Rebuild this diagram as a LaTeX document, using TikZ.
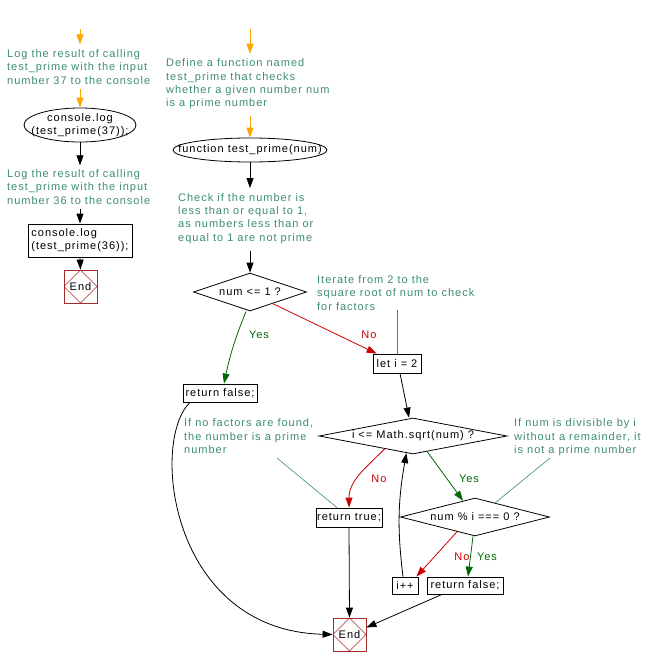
\documentclass[tikz,border=0pt]{standalone}
\usepackage{fontspec}
\setmainfont{Liberation Sans}[LetterSpace=9]
\usepackage{xcolor}
\usetikzlibrary{shapes.geometric,arrows.meta,calc}
\definecolor{notecol}{RGB}{60,140,110}
\definecolor{arrorange}{RGB}{255,165,0}
\definecolor{yesgreen}{RGB}{0,102,0}
\definecolor{nored}{RGB}{204,0,0}
\definecolor{endcol}{RGB}{165,42,42}

\begin{document}
\begin{tikzpicture}[x=1pt,y=-1pt,
		every node/.style={font=\fontsize{11}{13.3}\selectfont},
		note/.style={text=notecol,align=left,inner sep=0pt,anchor=north west},
		box/.style={draw,rectangle,inner sep=0pt,line width=0.8pt},
		cond/.style={draw,diamond,inner sep=0pt,line width=0.8pt},
		term/.style={draw,ellipse,align=center,inner xsep=-30pt,inner ysep=-10pt,line width=0.8pt},
		endbox/.style={draw=endcol,rectangle,minimum size=33pt,inner sep=0pt,line width=0.8pt,
			path picture={\draw[endcol,line width=0.6pt] (path picture bounding box.north)--(path picture bounding box.east)--(path picture bounding box.south)--(path picture bounding box.west)--cycle;}},
		flow/.style={line width=0.8pt,-{Triangle[length=10pt,width=7pt]}},
		orflow/.style={flow,color=arrorange},
		yesflow/.style={flow,color=yesgreen},
		noflow/.style={flow,color=nored},
		noteline/.style={draw=notecol,line width=0.6pt},
		yes/.style={text=yesgreen},
		no/.style={text=nored}]
				\useasboundingbox (0,0) rectangle (650,665);
				\coordinate (s1) at (80,29);%left start
				\coordinate (s2) at (250,29);%main start
				\coordinate (c1) at (277,458);%note nofactors
				\coordinate (c2) at (550,458);%note divisible
				
				% left column
				\node[note] (n37) at (7,49.3) {Log the result of calling\\test\_prime with the input\\number 37 to the console};
				\node[term,minimum width=112pt,minimum height=34pt] (ell37) at (80,125) {console.log\\(test\_prime(37));};
				\node[note] (n36) at (7,169.3) {Log the result of calling\\test\_prime with the input\\number 36 to the console};
				\node[box,align=left,minimum width=104pt,minimum height=33pt] (box36) at (80,240.5) {console.log\\(test\_prime(36));};
				\node[endbox] (end1) at (80.5,286.5) {End};
				
				% main column
				\node[note] (ndef) at (166,58.7) {Define a function named\\test\_prime that checks\\whether a given number num\\is a prime number};
				\node[term,minimum width=154pt,minimum height=24pt] (func) at (250,150) {function test\_prime(num)};
				\node[note] (nchk) at (178,193) {Check if the number is\\less than or equal to 1,\\as numbers less than or\\equal to 1 are not prime};
				\node[cond,aspect=3,minimum width=113pt,minimum height=38pt] (dec1) at (250,292) {num <= 1 ?};
				\node[box,minimum width=74pt,minimum height=18pt] (retf1) at (220,393) {return false;};
				\node[note] (nitr) at (317,275.3) {Iterate from 2 to the\\square root of num to check\\for factors};
				\node[box,minimum width=48pt,minimum height=19pt] (leti) at (397,363.5) {let i = 2};
				\node[cond,aspect=5.2,minimum width=188pt,minimum height=36pt] (dec2) at (413,436) {i <= Math.sqrt(num) ?};
				\node[note] (nnof) at (184,418.7) {If no factors are found,\\the number is a prime\\number};
				\node[note] (ndiv) at (514,418.7) {If num is divisible by i\\without a remainder, it\\is not a prime number};
				\node[box,minimum width=66pt,minimum height=19pt] (rett) at (349,517.5) {return true;};
				\node[cond,aspect=3.9,minimum width=149pt,minimum height=38pt] (dec3) at (475,517) {num \% i === 0 ?};
				\node[box,minimum width=26pt,minimum height=17pt] (ipp) at (405,585.5) {i++};
				\node[box,minimum width=76pt,minimum height=17pt] (retf2) at (465,585.5) {return false;};
				\node[endbox] (end2) at (349.5,634.5) {End};
				
				% labels
				\node[yes] (lyes1) at (259,335) {Yes};
				\node[no] (lno1) at (369,335) {No};
				\node[no] (lno2) at (379,479) {No};
				\node[yes] (lyes2) at (469,479) {Yes};
				\node[no] (lno3) at (462,557) {No};
				\node[yes] (lyes3) at (487,557) {Yes};
				
				% left connectors
				\draw[orflow,shorten >=5pt] (s1) -- (s1 |- n37.north);
				\draw[orflow,shorten <=5pt] (ell37.north |- n37.south) -- (ell37.north);
				\draw[flow,shorten >=4pt] (ell37.south) -- (ell37.south |- n36.north);
				\draw[flow,shorten <=5pt] (box36.north |- n36.south) -- (box36.north);
				\draw[flow] (box36.south) -- (end1.north);
				
				% main connectors
				\draw[orflow,shorten >=5pt] (s2) -- (s2 |- ndef.north);
				\draw[orflow,shorten <=7pt] (func.north |- ndef.south) -- (func.north);
				\draw[flow,shorten >=5pt] (func.south) -- (func.south |- nchk.north);
				\draw[flow,shorten <=7pt] (dec1.north |- nchk.south) -- (dec1.north);
				\draw[yesflow] ([xshift=-4pt]dec1.south) to[bend right=5] ([xshift=4pt]retf1.north);
				\draw[noflow] ($(dec1.south)!0.4!(dec1.east)$) -- ([xshift=4pt]leti.north west);
				\draw[noteline] (leti.north |- nitr.south) -- (leti.north);
				\draw[flow] ([xshift=3pt]leti.south) -- ([xshift=-4pt]dec2.north);
				\draw[noflow] ($(dec2.west)!0.7!(dec2.south)$) to[out=225,in=90] (rett.north);
				\draw[yesflow] ($(dec2.south)!0.15!(dec2.east)$) -- ($(dec3.north)!0.16!(dec3.west)$);
				\draw[noflow] ($(dec3.west)!0.76!(dec3.south)$) -- ([xshift=-2pt]ipp.north east);
				\draw[yesflow] ([xshift=-2pt]dec3.south) -- ([xshift=3pt]retf2.north);
				\draw[flow] ([xshift=-2pt]ipp.north) to[out=97,in=-100] ($(dec2.south)!0.07!(dec2.west)$);
				\draw[flow] (rett.south) -- (end2.north);
				\draw[flow] ([xshift=-23pt]retf2.south) -- ([yshift=7pt]end2.east);
				\draw[flow] ([xshift=-30pt]retf1.south) .. controls +(-40,38) and +(-163,-4) .. (end2.west);
				\draw[noteline] (c1) -- ([xshift=-12pt]rett.north);
				\draw[noteline] (c2) -- ($(dec3.north)!0.27!(dec3.east)$);
			\end{tikzpicture}
\end{document}
